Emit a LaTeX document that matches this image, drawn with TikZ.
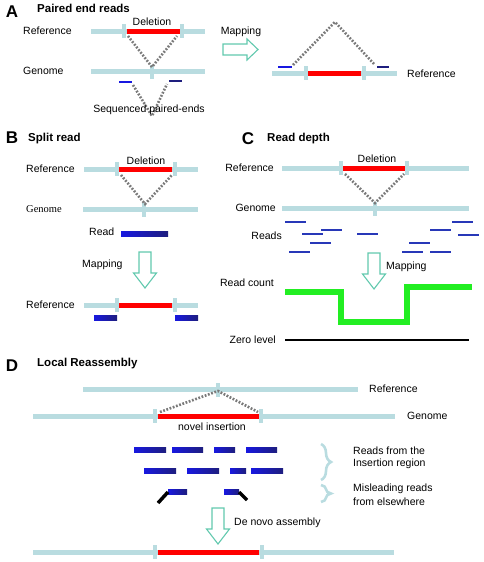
\documentclass[tikz,border=0pt]{standalone}
\usepackage{fontspec}
\setmainfont{Liberation Sans}
\newfontfamily\genomeserif{Liberation Serif}
\usetikzlibrary{decorations.pathreplacing}

\definecolor{chromblue}{HTML}{B9DCE0}
\definecolor{dotgray}{HTML}{7A7A7A}
\definecolor{mapteal}{HTML}{62C9AE}
\definecolor{readblue}{HTML}{1818E0}
\definecolor{readnavy}{HTML}{1E1E7E}
\definecolor{thinread}{HTML}{2838B8}
\definecolor{countgreen}{HTML}{22EE22}

\begin{document}
\begin{tikzpicture}[x=1pt,y=-1pt,
    lab/.style={inner sep=0pt, font=\fontsize{10.5}{12}\selectfont},
    ttl/.style={inner sep=0pt, anchor=west, font=\fontsize{11.5}{13}\selectfont\bfseries},
    letter/.style={inner sep=0pt, font=\fontsize{17}{19}\selectfont\bfseries},
    chrom/.style={draw=chromblue, line width=5pt},
    del/.style={draw=red, line width=5pt},
    sv/.style={draw=dotgray, line width=2.6pt, dash pattern=on 1.8pt off 1.6pt},
    maparr/.style={draw=mapteal, line width=1.1pt, fill=white},
    short/.style={draw=thinread, line width=1.6pt},
    lbrace/.style={draw=chromblue, line width=2.6pt, decorate, decoration={brace, amplitude=10pt}}]
                \newcommand{\brk}[2]{\fill[chromblue] (#1-1.8,#2-7) rectangle (#1+1.8,#2+7);}
                \newcommand{\rd}[3]{\shade[left color=readblue, right color=readnavy] (#1,#3-2.3) rectangle (#2,#3+2.3);}
                \newcommand{\mapdown}[2]{\draw[maparr] (#1-6,#2) -- (#1+6,#2) -- (#1+6,#2+21) -- (#1+11.5,#2+21) -- (#1,#2+36) -- (#1-11.5,#2+21) -- (#1-6,#2+21) -- cycle;}

                \useasboundingbox (0,0) rectangle (483,562);

                % Panel A: paired end reads
                \node[letter] (la) at (12,12) {A};
                \node[ttl] (ta) at (37,8) {Paired end reads};
                \node[lab, anchor=west] (refa) at (23,31) {Reference};
                \node[lab, anchor=west] (gena) at (23,71) {Genome};
                \draw[chrom] (91,31) -- (205,31);
                \draw[del] (127,31) -- (180,31);
                \brk{124}{31} \brk{182}{31}
                \node[lab] (dela) at (152,22) {Deletion};
                \draw[chrom] (91,71) -- (205,71);
                \brk{152}{72}
                \coordinate (a1) at (128,36);
                \coordinate (a2) at (177,36);
                \coordinate (a3) at (152,67);
                \draw[sv] (a1) -- (a3) -- (a2);
                \draw[short, readblue] (119,82) -- (132,82);
                \draw[short, readnavy] (169,81) -- (182,81);
                \coordinate (a4) at (133,85);
                \coordinate (a5) at (167,84);
                \coordinate (a6) at (152,116);
                \draw[sv] (a4) -- (a6) -- (a5);
                \node[lab] (seqa) at (149,110) {Sequenced paired-ends};

                % mapping to the reference
                \draw[maparr] (223,44) -- (247,44) -- (247,39) -- (258,49.5) -- (247,60) -- (247,55) -- (223,55) -- cycle;
                \node[lab] (mapa) at (241,32) {Mapping};
                \draw[chrom] (272,73) -- (397,73);
                \draw[del] (308,73) -- (361,73);
                \brk{306}{73} \brk{364}{73}
                \draw[short, readblue] (278,67) -- (292,67);
                \draw[short, readnavy] (377,67) -- (389,67);
                \coordinate (a7) at (293,65);
                \coordinate (a8) at (335,22);
                \coordinate (a9) at (375,65);
                \draw[sv] (a7) -- (a8) -- (a9);
                \node[lab, anchor=west] (refa2) at (407,74) {Reference};

                % Panel B: split read
                \node[letter] (lb) at (12,138) {B};
                \node[ttl] (tb) at (28,139) {Split read};
                \node[lab, anchor=west] (refb) at (26,169) {Reference};
                \draw[chrom] (84,169) -- (198,169);
                \draw[del] (119,169) -- (172,169);
                \brk{117}{169} \brk{175}{169}
                \node[lab] (delb) at (146,161) {Deletion};
                \draw[chrom] (83,209) -- (198,209);
                \brk{144}{210}
                \coordinate (b1) at (121,175);
                \coordinate (b2) at (172,175);
                \coordinate (b3) at (145,204);
                \draw[sv] (b1) -- (b3) -- (b2);
                \node[lab, anchor=west, font=\fontsize{10.5}{12}\selectfont\genomeserif] (genb) at (26,209) {Genome};
                \node[lab, anchor=west] (readb) at (89,232) {Read};
                \rd{121}{168}{234}
                \mapdown{145}{252}
                \node[lab, anchor=west] (mapb) at (82,265) {Mapping};
                \node[lab, anchor=west] (refb2) at (26,305) {Reference};
                \draw[chrom] (84,305) -- (198,305);
                \draw[del] (119,305) -- (172,305);
                \brk{117}{305} \brk{175}{305}
                \rd{94}{117}{318} \rd{175}{198}{318}

                % Panel C: read depth
                \node[letter] (lc) at (248,139) {C};
                \node[ttl] (tc) at (267,139) {Read depth};
                \node[lab, anchor=east] (refc) at (274,168) {Reference};
                \draw[chrom] (282,168) -- (469,168);
                \draw[del] (343,168) -- (405,168);
                \brk{341}{168} \brk{407}{168}
                \node[lab] (delc) at (377,159) {Deletion};
                \draw[chrom] (282,208) -- (469,208);
                \brk{375}{209}
                \coordinate (c1) at (345,174);
                \coordinate (c2) at (404,174);
                \coordinate (c3) at (375,203);
                \draw[sv] (c1) -- (c3) -- (c2);
                \node[lab, anchor=east] (genc) at (276,208) {Genome};
                \node[lab, anchor=east] (readc) at (282,236) {Reads};
                \foreach \xa/\ya in {285/222, 321/230, 302/234, 357/234, 310/243, 289/252, 452/222, 430/230, 458/235, 409/243, 402/252, 430/252} {
                    \draw[short] (\xa,\ya) -- ++(21,0);
                }
                \mapdown{374}{253}
                \node[lab, anchor=west] (mapc) at (386,267) {Mapping};
                \node[lab, anchor=east] (countc) at (274,283) {Read count};
                \draw[countgreen, line width=5.5pt] (285,292) -- (341,292) -- (341,322) -- (407,322) -- (407,287) -- (472,287);
                \node[lab, anchor=east] (zeroc) at (276,340) {Zero level};
                \draw[black, line width=2.6pt] (285,340) -- (469,340);

                % Panel D: local reassembly
                \node[letter] (ld) at (12,366) {D};
                \node[ttl] (td) at (37,364) {Local Reassembly};
                \draw[chrom] (83,389) -- (358,389);
                \brk{218}{390}
                \node[lab, anchor=west] (refd) at (369,389) {Reference};
                \draw[chrom] (33,416) -- (395,416);
                \draw[del] (158,416) -- (259,416);
                \brk{155}{416} \brk{261}{416}
                \node[lab, anchor=west] (gend) at (407,416) {Genome};
                \coordinate (d1) at (160,412);
                \coordinate (d2) at (218,391);
                \coordinate (d3) at (258,412);
                \draw[sv] (d1) -- (d2) -- (d3);
                \node[lab] (insd) at (212,427) {novel insertion};
                \foreach \xa/\xb in {134/166, 172/203, 214/235, 246/277} {
                    \rd{\xa}{\xb}{450}
                }
                \foreach \xa/\xb in {144/176, 187/219, 230/246, 251/283} {
                    \rd{\xa}{\xb}{471}
                }
                \rd{168}{187}{492} \rd{224}{239}{492}
                \draw[black, line width=3.5pt] (168,492) -- (158,503);
                \draw[black, line width=3.5pt] (239,492) -- (247,500);
                \draw[lbrace] (321,444) -- (321,480);
                \draw[lbrace] (321,485) -- (321,502);
                \node[lab, anchor=west] (insr1) at (353,451) {Reads from the};
                \node[lab, anchor=west] (insr2) at (353,464) {Insertion region};
                \node[lab, anchor=west] (misr1) at (353,489) {Misleading reads};
                \node[lab, anchor=west] (misr2) at (353,502) {from elsewhere};
                \mapdown{218}{508}
                \node[lab, anchor=west] (asmd) at (234,523) {De novo assembly};
                \draw[chrom] (33,552) -- (394,552);
                \draw[del] (158,552) -- (259,552);
                \brk{155}{552} \brk{262}{552}
            \end{tikzpicture}
\end{document}
